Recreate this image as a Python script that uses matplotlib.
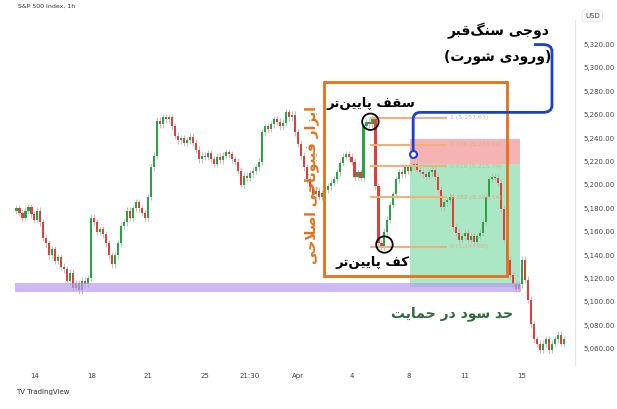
import matplotlib
matplotlib.use("Agg")
import matplotlib.pyplot as plt
from matplotlib.patches import Rectangle, Ellipse
from matplotlib.path import Path
from matplotlib.patches import PathPatch

closes = [5180,5176,5172,5178,5181,5175,5170,5178,5168,
          5155,5150,5140,5145,5135,5138,5130,
          5128,5118,5125,5112,5116,
          5110,5118,5115,5120,
          5172,5168,5160,5162,5158,5150,5140,5132,
          5140,5150,5165,5168,5178,5172,5180,5185,5180,5176,
          5172,5190,5215,5225,
          5255,5252,5258,5256,5258,5250,
          5242,5238,5240,5236,5238,5241,5236,5230,
          5222,5225,5224,5227,5222,5218,5224,5221,
          5225,5228,5226,5222,5220,5212,5200,5208,5206,
          5210,5212,5215,5220,5245,5250,5248,
          5252,5256,5254,5250,5253,5262,5258,5260,
          5245,5235,5225,5215,5205,5198,5192,5195,5190,
          5193,5196,5199,5202,5205,5211,5219,5224,5226,5224,5220,5207,5211,5206,
          5250,5254,5252,5257,
          5199,5150,5147,5160,
          5170,5183,5192,5205,5211,5209,5215,5212,5216,5218,5213,
          5211,5209,5207,5211,5213,5207,5196,5181,5185,5187,5190,
          5164,5159,5153,5156,5159,5153,5156,5151,5156,5159,5168,
          5190,5205,5207,5206,5202,
          5179,5153,5136,5123,5115,5111,5115,
          5136,5119,5102,5081,5068,5064,5059,5064,5068,5059,5064,5068,5072,5064,5068]
first_open = 5178
x_tick_pos = [6, 25, 44, 63, 78, 94, 112, 131, 150, 169]
x_tick_labels = ["14", "18", "21", "25", "21:30", "Apr", "4", "8", "11", "15"]
y_ticks = [5060, 5080, 5100, 5120, 5140, 5160, 5180, 5200, 5220, 5240, 5260, 5280, 5300, 5320]
fib_levels = [1, 0.786, 0.618, 0.382, 0]
fib_prices = [5257.63, 5234.16, 5215.74, 5189.56, 5147.0]

FORMS = {
 'ا':(0xFE8D,0xFE8E,None,None),'ب':(0xFE8F,0xFE90,0xFE91,0xFE92),'پ':(0xFB56,0xFB57,0xFB58,0xFB59),
 'ت':(0xFE95,0xFE96,0xFE97,0xFE98),'ج':(0xFE9D,0xFE9E,0xFE9F,0xFEA0),'چ':(0xFB7A,0xFB7B,0xFB7C,0xFB7D),
 'ح':(0xFEA1,0xFEA2,0xFEA3,0xFEA4),'د':(0xFEA9,0xFEAA,None,None),'ر':(0xFEAD,0xFEAE,None,None),
 'ز':(0xFEAF,0xFEB0,None,None),'س':(0xFEB1,0xFEB2,0xFEB3,0xFEB4),'ش':(0xFEB5,0xFEB6,0xFEB7,0xFEB8),
 'ص':(0xFEB9,0xFEBA,0xFEBB,0xFEBC),'ف':(0xFED1,0xFED2,0xFED3,0xFED4),'ق':(0xFED5,0xFED6,0xFED7,0xFED8),
 'ک':(0xFB8E,0xFB8F,0xFB90,0xFB91),'گ':(0xFB92,0xFB93,0xFB94,0xFB95),'ل':(0xFEDD,0xFEDE,0xFEDF,0xFEE0),
 'م':(0xFEE1,0xFEE2,0xFEE3,0xFEE4),'ن':(0xFEE5,0xFEE6,0xFEE7,0xFEE8),'و':(0xFEED,0xFEEE,None,None),
 'ی':(0xFBFC,0xFBFD,0xFBFE,0xFBFF),'LA':(0xFEFB,0xFEFC,None,None)}

def shape(s):
    chars = []
    i = 0
    while i < len(s):
        if s[i] == 'ل' and i + 1 < len(s) and s[i+1] == 'ا':
            chars.append('LA'); i += 2
        else:
            chars.append(s[i]); i += 1
    out = []
    for k, c in enumerate(chars):
        if c not in FORMS:
            out.append(c); continue
        f = FORMS[c]
        prev = chars[k-1] if k > 0 else None
        nxt = chars[k+1] if k + 1 < len(chars) else None
        jp = prev in FORMS and FORMS[prev][2] is not None
        jn = nxt in FORMS and f[2] is not None
        if jp and jn: code = f[3]
        elif jp: code = f[1]
        elif jn: code = f[2]
        else: code = f[0]
        out.append(chr(code))
    r = ''.join(out).replace('\u200c', '')[::-1]
    return r.translate(str.maketrans('()', ')('))

plt.rcParams['font.family'] = ['DejaVu Sans']
fig = plt.figure(figsize=(6.17, 4.09), dpi=100)
ax = fig.add_axes([15/617, 1-365/409, (575-15)/617, (365-20)/409])

opens = [first_open] + closes[:-1]
green, red = '#26a641', '#e0403a'
for i, (o, c) in enumerate(zip(opens, closes)):
    col = green if c >= o else red
    hi, lo = max(o, c) + 3, min(o, c) - 3
    ax.vlines(i, lo, hi, color='#b8b8b8', lw=0.6, zorder=2)
    ax.add_patch(Rectangle((i - 0.35, min(o, c)), 0.7, max(abs(c - o), 0.8), color=col, lw=0, zorder=3))

ax.set_xlim(-0.5, 186.7)
ax.set_ylim(5046, 5341)

ax.add_patch(Rectangle((-0.5, 5108), 169, 8.5, color='#b99cf2', alpha=0.7, lw=0, zorder=4))
ax.add_patch(Rectangle((131.7, 5217.5), 36.6, 21.5, color='#f49a9a', alpha=0.75, lw=0, zorder=1))
ax.add_patch(Rectangle((131.7, 5113), 36.6, 104.5, color='#8fdfb1', alpha=0.75, lw=0, zorder=1))
for lv, p in zip(fib_levels, fib_prices):
    ax.hlines(p, 118.3, 144, color='#f0b27a', lw=1.5, zorder=5)
    ax.text(145, p, f"{lv} ({p:,.2f})", fontsize=4.5, color='#d9b38c', va='center', zorder=5)
ax.add_patch(Rectangle((102.7, 5122.5), 61.3, 165.5, fill=False, ec='#e8701a', lw=2, zorder=6))
for cx, cy in [(118.3, 5254), (123, 5149)]:
    ax.add_patch(Ellipse((cx, cy), 5.5, 14, fill=False, ec='black', lw=1.3, zorder=7))
verts = [(132.6, 5226), (132.6, 5256), (132.6, 5262), (135, 5262), (176, 5262), (179, 5262),
         (179, 5268), (179, 5314), (179, 5320), (176, 5320), (173, 5320)]
codes = [Path.MOVETO, Path.LINETO, Path.CURVE3, Path.CURVE3, Path.LINETO, Path.CURVE3, Path.CURVE3,
         Path.LINETO, Path.CURVE3, Path.CURVE3, Path.LINETO]
ax.add_patch(PathPatch(Path(verts, codes), fill=False, ec='#1a3fd6', lw=2, zorder=8, clip_on=False))
ax.plot([132.6], [5226], 'o', ms=5, mfc='white', mec='#1a3fd6', mew=1.5, zorder=9)

ax.text(161, 5332, shape('دوجی سنگ\u200cقبر'), fontsize=10, fontweight='bold', ha='center', va='center', zorder=10)
ax.text(161, 5310, shape('(ورودی شورت)'), fontsize=10, fontweight='bold', ha='center', va='center', zorder=10)
ax.text(118.5, 5270, shape('سقف پایین\u200cتر'), fontsize=9.5, fontweight='bold', ha='center', va='center', zorder=10)
ax.text(119, 5134, shape('کف پایین\u200cتر'), fontsize=9.5, fontweight='bold', ha='center', va='center', zorder=10)
ax.text(98.5, 5200, shape('ابزار فیبوناچی اصلاحی'), fontsize=10, fontweight='bold', color='#e8701a',
        rotation=90, ha='center', va='center', zorder=10)
ax.text(145.5, 5090, shape('حد سود در حمایت'), fontsize=10, fontweight='bold', color='#2e6b3a',
        ha='center', va='center', zorder=10)

for s in ['top', 'left', 'bottom']:
    ax.spines[s].set_visible(False)
ax.spines['right'].set_color('#e6e6e6')
ax.yaxis.tick_right()
ax.set_yticks(y_ticks)
ax.set_yticklabels([f"{v:,.2f}" for v in y_ticks], fontsize=5, color='#444')
ax.set_xticks(x_tick_pos)
ax.set_xticklabels(x_tick_labels, fontsize=5, color='#444')
ax.tick_params(length=0, pad=6)

fig.text(18/617, 1-6/409, "S&P 500 Index, 1h", fontsize=4.5, color='#333', va='center')
fig.text(585/617, 1-16/409, "USD", fontsize=5, color='#444', va='center',
         bbox=dict(boxstyle='round,pad=0.4', fc='white', ec='#e6e6e6', lw=0.6))
fig.text(16/617, 1-392/409, "TV TradingView", fontsize=5, color='#333', va='center')
fig.savefig("out.png", dpi=100)
